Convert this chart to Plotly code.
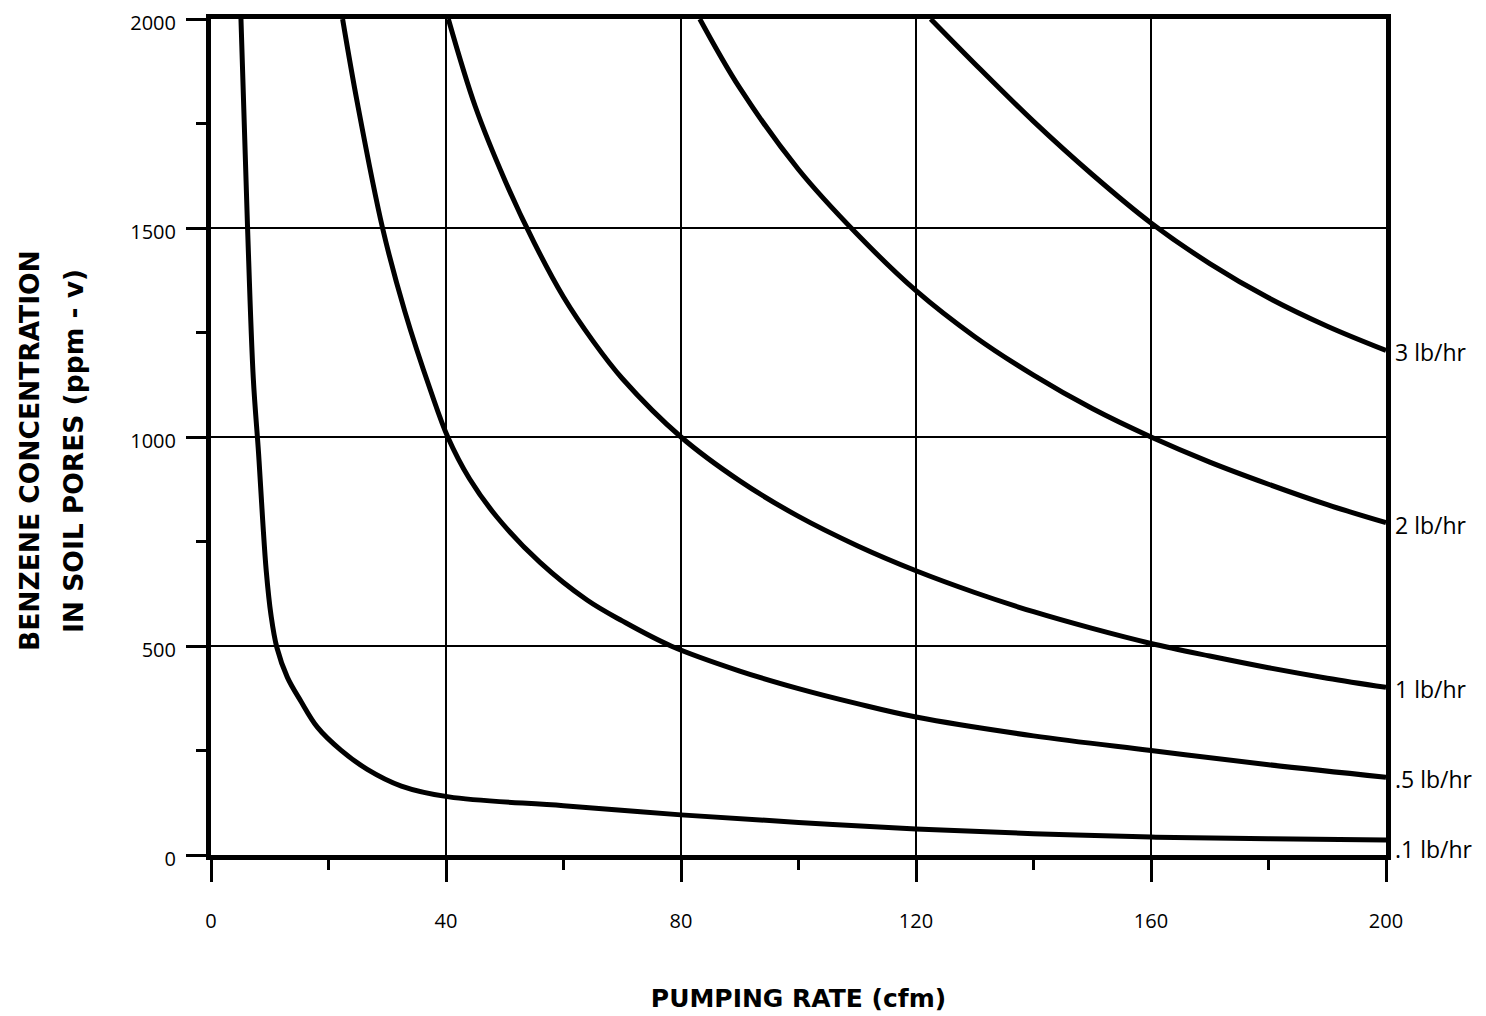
import plotly.graph_objects as go

# ---- data ----
rate_3 = [122.5, 130, 140, 150, 160, 170, 180, 190, 200]
conc_3 = [2000, 1893, 1755, 1628, 1512, 1415, 1333, 1265, 1207]

rate_2 = [83.2, 90, 100, 110, 120, 130, 140, 150, 160, 170, 180, 190, 200]
conc_2 = [2000, 1835, 1640, 1485, 1350, 1240, 1148, 1068, 1000, 940, 887, 838, 795]

rate_1 = [40.4, 45, 50, 55, 60, 65, 70, 80, 90, 100, 110, 120, 130, 140, 150, 160, 170, 180, 190, 200]
conc_1 = [2000, 1790, 1615, 1465, 1335, 1230, 1140, 1000, 895, 810, 740, 680, 628, 582, 542, 506,
          476, 448, 423, 401]

rate_05 = [22.4, 24.9, 29.2, 33, 37.4, 40.3, 44, 48.7, 56, 64, 70, 78.3, 90, 100, 110, 120, 140,
           160, 180, 200]
conc_05 = [2000, 1800, 1500, 1300, 1110, 1000, 900, 808, 700, 610, 560, 500, 440, 398, 362, 330,
           285, 250, 216, 186]

rate_01 = [5.1, 6.2, 7.2, 8.1, 8.8, 9.4, 10.2, 11.2, 13.0, 15.3, 18.1, 22.1, 26.6, 32.4, 40.5,
           60, 80, 100, 120, 140, 160, 180, 200]
conc_01 = [2000, 1510, 1140, 960, 800, 680, 575, 497, 425, 368, 306, 251, 205, 165, 139,
           118, 96, 78, 62, 51, 43, 39, 36]

series_names = ["3 lb/hr", "2 lb/hr", "1 lb/hr", ".5 lb/hr", ".1 lb/hr"]
series_x = [rate_3, rate_2, rate_1, rate_05, rate_01]
series_y = [conc_3, conc_2, conc_1, conc_05, conc_01]

x_ticks = [0, 40, 80, 120, 160, 200]
y_ticks = [0, 500, 1000, 1500, 2000]

x_title = "PUMPING RATE (cfm)"
y_title_lines = ["BENZENE CONCENTRATION", "IN SOIL PORES (ppm - v)"]

FONT = "'Open Sans', Lato, sans-serif"
TITLE_FONT = "'DejaVu Sans', 'Open Sans', sans-serif"

fig = go.Figure()
for name, xs, ys in zip(series_names, series_x, series_y):
    fig.add_trace(go.Scatter(
        x=xs, y=ys, mode="lines", name=name,
        line=dict(color="black", width=5, shape="spline", smoothing=1.0),
        hoverinfo="skip",
    ))

# curve labels at the right end of each curve
label_shift = {".1 lb/hr": -9}
for name, xs, ys in zip(series_names, series_x, series_y):
    fig.add_annotation(
        x=xs[-1], y=ys[-1], text=name, showarrow=False,
        xanchor="left", yanchor="middle", xshift=7,
        yshift=label_shift.get(name, -2),
        font=dict(family=FONT, size=23, color="black"),
    )

# two-line rotated y-axis title
for line_text, shift in zip(y_title_lines, [-182, -138]):
    fig.add_annotation(
        xref="paper", yref="paper", x=0, y=0.5, xshift=shift, yshift=-14,
        text="<b>" + line_text + "</b>", textangle=-90, showarrow=False,
        xanchor="center", yanchor="middle",
        font=dict(family=TITLE_FONT, size=26.5, color="black"),
    )

fig.update_xaxes(
    range=[0, 200], tickvals=x_ticks, ticktext=[str(v) for v in x_ticks],
    showline=True, linewidth=5, linecolor="black", mirror=True,
    showgrid=True, gridcolor="black", gridwidth=2,
    zeroline=False, automargin=False, ticklabeloverflow="allow",
    ticks="outside", ticklen=22, tickwidth=3, tickcolor="black",
    minor=dict(dtick=20, tick0=0, ticks="outside", ticklen=10, tickwidth=3,
               tickcolor="black", showgrid=False),
    ticklabelstandoff=22,
    tickfont=dict(family=FONT, size=20, color="black"),
    title=dict(text="<b>" + x_title + "</b>", standoff=58,
               font=dict(family=TITLE_FONT, size=25, color="black")),
)
fig.update_yaxes(
    range=[0, 2000], tickvals=y_ticks, ticktext=[str(v) for v in y_ticks],
    showline=True, linewidth=5, linecolor="black", mirror=True,
    showgrid=True, gridcolor="black", gridwidth=2,
    zeroline=False, automargin=False, ticklabeloverflow="allow",
    ticks="outside", ticklen=20, tickwidth=3, tickcolor="black",
    minor=dict(dtick=250, tick0=0, ticks="outside", ticklen=10, tickwidth=3,
               tickcolor="black", showgrid=False),
    ticklabelstandoff=6, ticklabelshift=4,
    tickfont=dict(family=FONT, size=20, color="black"),
)

fig.update_layout(
    width=1486, height=1016,
    margin=dict(l=203, r=108, t=11, b=169, autoexpand=False),
    paper_bgcolor="white", plot_bgcolor="white",
    showlegend=False,
    font=dict(family=FONT, color="black"),
)

fig.write_html("out.html")
